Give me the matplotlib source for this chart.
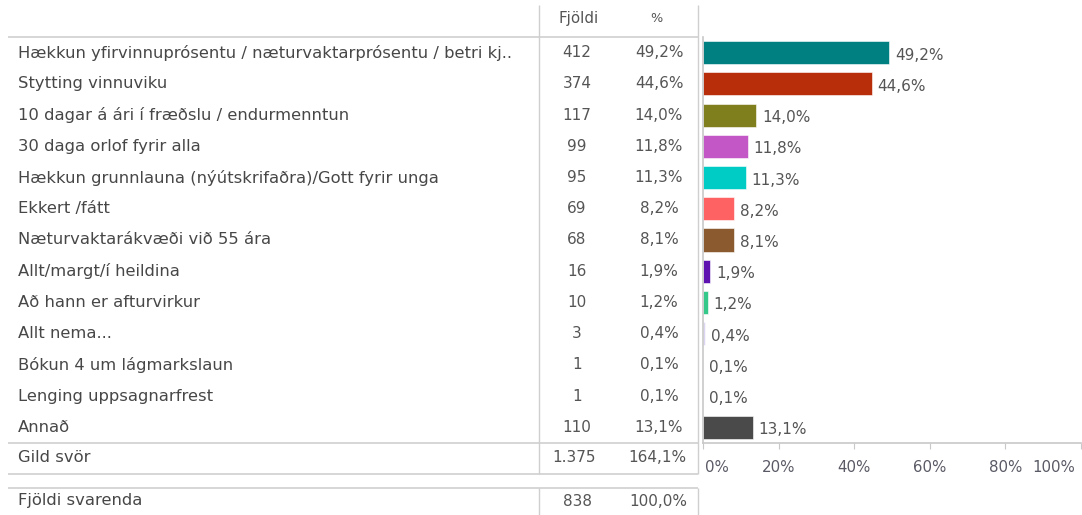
import matplotlib
matplotlib.use("Agg")
import matplotlib.pyplot as plt
from matplotlib.transforms import ScaledTranslation

categories = [
    "Hækkun yfirvinnuprósentu / næturvaktarprósentu / betri kj..",
    "Stytting vinnuviku",
    "10 dagar á ári í fræðslu / endurmenntun",
    "30 daga orlof fyrir alla",
    "Hækkun grunnlauna (nýútskrifaðra)/Gott fyrir unga",
    "Ekkert /fátt",
    "Næturvaktarákvæði við 55 ára",
    "Allt/margt/í heildina",
    "Að hann er afturvirkur",
    "Allt nema...",
    "Bókun 4 um lágmarkslaun",
    "Lenging uppsagnarfrest",
    "Annað",
]
counts = [412, 374, 117, 99, 95, 69, 68, 16, 10, 3, 1, 1, 110]
percents = [49.2, 44.6, 14.0, 11.8, 11.3, 8.2, 8.1, 1.9, 1.2, 0.4, 0.1, 0.1, 13.1]
colors = ["#008080", "#B82E0A", "#7F7F1E", "#C457C6", "#00CCC6", "#FF6262",
          "#8B5A2E", "#5E12B0", "#34C98A", "#DCD6F2", "#E2E2F0", "#E2E2F0", "#4A4A4A"]
header_count = "Fjöldi"
header_pct = "%"
valid_label, valid_count, valid_pct = "Gild svör", "1.375", 164.1
resp_label, resp_count, resp_pct = "Fjöldi svarenda", "838", 100.0
xticks = [0, 20, 40, 60, 80, 100]


def fmt(p):
    return f"{p:.1f}".replace(".", ",") + "%"


W, H = 1082, 515
fig = plt.figure(figsize=(W / 100, H / 100), dpi=100)
plt.rcParams['font.family'] = ['DejaVu Sans']
FL = 11.8   # labels
FN = 11.0   # numbers
FT = 10.8   # ticks/header
TXT = "#474747"
NUM = "#555555"
LINE = "#cfcfcf"

ov = fig.add_axes([0, 0, 1, 1])
ov.set_xlim(0, W)
ov.set_ylim(H, 0)
ov.axis("off")

row_top = 37.0
row_h = (443.0 - 37.0) / len(categories)

ov.text(579, 18, header_count, ha="center", va="center", fontsize=FT, color=NUM)
ov.text(656, 18, header_pct, ha="center", va="center", fontsize=FT - 1.5, color=NUM)


def hline(y, x0=8, x1=698):
    ov.plot([x0, x1], [y, y], color=LINE, lw=1.2, solid_capstyle="butt")


def vline(x, y0, y1):
    ov.plot([x, x], [y0, y1], color=LINE, lw=1.0, solid_capstyle="butt")


hline(37)
hline(443)
hline(474)
hline(488)
vline(539, 5, 474)
vline(698, 5, 474)
vline(539, 488, 515)
vline(698, 488, 515)

for i, (c, n, p) in enumerate(zip(categories, counts, percents)):
    y = row_top + row_h * (i + 0.5)
    ov.text(18, y, c, ha="left", va="center", fontsize=FL, color=TXT)
    ov.text(577, y, str(n), ha="center", va="center", fontsize=FN, color=NUM)
    ov.text(659, y, fmt(p), ha="center", va="center", fontsize=FN, color=NUM)

ov.text(18, 458, valid_label, ha="left", va="center", fontsize=FL, color=TXT)
ov.text(574, 458, valid_count, ha="center", va="center", fontsize=FN, color=NUM)
ov.text(657, 458, fmt(valid_pct), ha="center", va="center", fontsize=FN, color=NUM)
ov.text(18, 501, resp_label, ha="left", va="center", fontsize=FL, color=TXT)
ov.text(577, 501, resp_count, ha="center", va="center", fontsize=FN, color=NUM)
ov.text(658, 501, fmt(resp_pct), ha="center", va="center", fontsize=FN, color=NUM)

x0, x1 = 703, 1081
ax = fig.add_axes([x0 / W, (H - 443) / H, (x1 - x0) / W, (443 - 37) / H])
ax.patch.set_alpha(0)
ypos = list(range(len(categories)))
ax.barh(ypos, percents, height=0.74, color=colors, edgecolor="white", linewidth=0.4)
ax.set_ylim(len(categories) - 0.5, -0.5)
ax.set_xlim(0, 100)
for y, p in zip(ypos, percents):
    ax.text(p + 1.6, y + 0.08, fmt(p), ha="left", va="center", fontsize=FN, color=NUM)
for s in ["top", "right"]:
    ax.spines[s].set_visible(False)
for s in ["left", "bottom"]:
    ax.spines[s].set_color("#c8c8c8")
    ax.spines[s].set_linewidth(1.2)
ax.set_yticks([])
ax.set_xticks(xticks)
ax.set_xticklabels([f"{t}%" for t in xticks], fontsize=FT, color="#5a5a66")
ax.tick_params(axis="x", length=4, color="#c8c8c8", pad=8)
labels = ax.get_xticklabels()
labels[0].set_ha("left")
labels[0].set_transform(labels[0].get_transform() + ScaledTranslation(2 / 100, 0, fig.dpi_scale_trans))
labels[-1].set_ha("right")
labels[-1].set_transform(labels[-1].get_transform() + ScaledTranslation(-6 / 100, 0, fig.dpi_scale_trans))

fig.savefig("out.png", dpi=100)
